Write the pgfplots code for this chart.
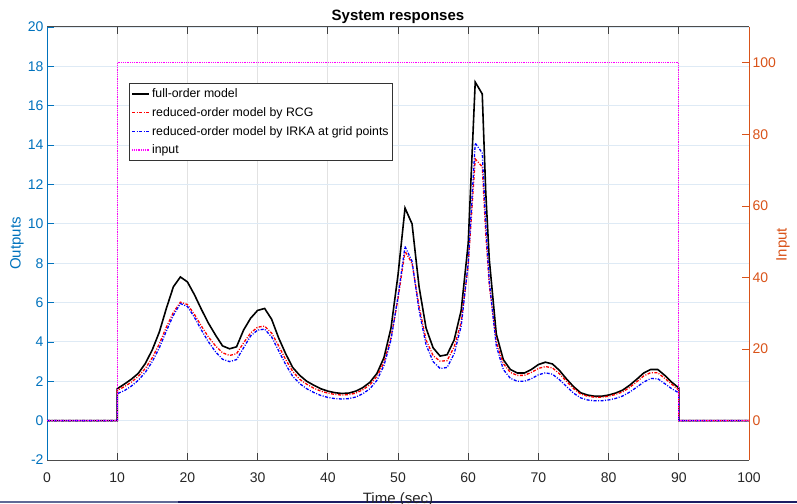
\documentclass[border=0pt]{standalone}
\usepackage{fontspec}
\setmainfont{Liberation Sans}
\usepackage{pgfplots}
\usepackage{pgfplotstable}
\pgfplotsset{compat=1.18}

\definecolor{mblue}{RGB}{0,114,189}
\definecolor{morange}{RGB}{217,83,25}
\definecolor{xgrid}{RGB}{226,226,226}
\definecolor{ygrid}{RGB}{222,234,245}
\definecolor{cfull}{RGB}{0,0,0}
\definecolor{crcg}{RGB}{255,0,0}
\definecolor{cirka}{RGB}{0,0,255}
\definecolor{cinput}{RGB}{255,0,255}

% t  full  rcg  irka
\pgfplotstableread{
t     full   rcg    irka
0     0      0      0
10    0      0      0
10    1.62   1.54   1.37
11    1.85   1.72   1.52
12    2.10   1.95   1.75
13    2.40   2.25   2.05
14    2.90   2.65   2.45
15    3.60   3.20   3.00
16    4.50   3.90   3.70
17    5.70   4.75   4.55
18    6.80   5.50   5.35
19    7.30   6.02   5.95
20    7.05   5.90   5.80
21    6.40   5.40   5.25
22    5.65   4.80   4.60
23    4.95   4.25   4.00
24    4.35   3.80   3.50
25    3.80   3.45   3.12
26    3.65   3.31   3.00
27    3.75   3.40   3.10
28    4.60   3.95   3.70
29    5.20   4.45   4.30
30    5.60   4.75   4.60
31    5.70   4.80   4.65
32    5.15   4.45   4.25
33    4.20   3.80   3.55
34    3.40   3.10   2.85
35    2.70   2.50   2.25
36    2.30   2.10   1.88
37    2.00   1.85   1.62
38    1.80   1.65   1.43
39    1.62   1.50   1.28
40    1.50   1.40   1.18
41    1.42   1.33   1.12
42    1.38   1.30   1.10
43    1.40   1.32   1.12
44    1.50   1.40   1.20
45    1.68   1.57   1.37
46    1.95   1.82   1.62
47    2.40   2.25   2.05
48    3.20   2.95   2.80
49    4.70   4.20   4.10
50    7.40   6.20   6.30
51    10.80  8.60   8.85
52    10.00  8.00   8.10
53    6.80   5.80   5.60
54    4.70   4.10   3.85
55    3.70   3.30   3.00
56    3.28   3.02   2.65
57    3.35   3.05   2.70
58    4.10   3.75   3.40
59    5.60   5.00   4.80
60    9.00   7.90   8.00
61    17.20  13.30  14.10
62    16.60  12.90  13.60
62.5  11.60  9.50   10.00
63    8.20   6.90   7.10
64    4.40   4.00   3.80
65    3.10   2.90   2.60
66    2.60   2.45   2.15
67    2.42   2.30   2.00
68    2.42   2.30   2.00
69    2.60   2.45   2.13
70    2.85   2.65   2.33
71    2.97   2.75   2.43
72    2.88   2.68   2.36
73    2.55   2.38   2.08
74    2.12   2.00   1.74
75    1.73   1.63   1.40
76    1.42   1.35   1.16
77    1.30   1.24   1.05
78    1.24   1.19   1.01
79    1.24   1.19   1.01
80    1.30   1.24   1.05
81    1.40   1.33   1.13
82    1.55   1.46   1.25
83    1.80   1.69   1.45
84    2.10   1.97   1.70
85    2.42   2.27   1.96
86    2.60   2.44   2.14
87    2.60   2.43   2.13
88    2.30   2.15   1.88
89    1.95   1.85   1.62
90    1.66   1.55   1.41
90    0      0      0
100   0      0      0
}\outputs

\pgfplotstableread{
t    u
0    0
10   0
10   100
90   100
90   0
100  0
}\inputsig

\begin{document}
\begin{tikzpicture}
\useasboundingbox (0,0) rectangle (797pt,503pt);
% screenshot edge
\fill[color={rgb,255:red,95;green,105;blue,150}] (0,0) rectangle (178pt,2.5pt);
\fill[color={rgb,255:red,28;green,30;blue,100}] (178pt,0) rectangle (797pt,2.5pt);

\begin{axis}[
    at={(47pt,43pt)}, anchor=south west,
    scale only axis, width=702pt, height=433pt,
    xmin=0, xmax=100, ymin=-2, ymax=20,
    xtick={0,10,...,100}, ytick={-2,0,...,20},
    axis x line*=box, axis y line*=left,
    xticklabel pos=lower,
    x axis line style={draw=black!70, line width=1pt},
    y axis line style={draw=mblue, line width=1pt},
    xtick style={draw=black!75, line width=0.8pt},
    ytick style={draw=mblue, line width=0.8pt},
    major tick length=7pt,
    tick align=inside,
    xmajorgrids, ymajorgrids,
    x grid style={draw=xgrid, line width=0.9pt},
    y grid style={draw=ygrid, line width=0.9pt},
    /pgf/number format/assume math mode=true,
    tick label style={font=\fontsize{14}{16}\selectfont},
    xticklabel style={text=black!85, yshift=-9pt},
    yticklabel style={text=mblue},
    title={\textbf{System responses}},
    title style={font=\fontsize{15}{17}\selectfont, at={(axis description cs:0.5,1)}, anchor=south, yshift=-6pt},
    xlabel={Time (sec)},
    xlabel style={font=\fontsize{15}{17}\selectfont, text=black!85, at={(axis description cs:0.5,0)}, anchor=base, yshift=-43.5pt},
    ylabel={Outputs},
    ylabel style={font=\fontsize{15}{17}\selectfont, text=mblue, at={(axis description cs:-0.0427,0.5)}, anchor=center},
]
\addplot[color=cfull, line width=1.6pt] table[x=t, y=full] {\outputs};
\addplot[color=crcg, line width=1.3pt, dash pattern=on 3pt off 1.5pt on 1pt off 1.5pt] table[x=t, y=rcg] {\outputs};
\addplot[color=cirka, line width=1.3pt, dash pattern=on 3pt off 1.5pt on 1pt off 1.5pt] table[x=t, y=irka] {\outputs};
\end{axis}

\begin{axis}[
    at={(47pt,43pt)}, anchor=south west,
    scale only axis, width=702pt, height=433pt,
    xmin=0, xmax=100, ymin=-11, ymax=110,
    ytick={0,20,...,100},
    axis x line=none, axis y line*=right,
    y axis line style={draw=morange, line width=1pt},
    ytick style={draw=morange, line width=0.8pt},
    major tick length=7pt,
    tick align=inside,
    /pgf/number format/assume math mode=true,
    tick label style={font=\fontsize{14}{16}\selectfont},
    yticklabel style={text=morange},
    ylabel={Input},
    ylabel style={font=\fontsize{15}{17}\selectfont, text=morange, at={(axis description cs:1.0484,0.497)}, anchor=center},
    legend style={at={(axis description cs:0.1168,0.8707)}, anchor=north west,
        draw=black!80, line width=0.8pt, fill=white,
        font=\fontsize{12.3}{14}\selectfont, inner xsep=2pt, inner ysep=3.5pt, row sep=4.2pt},
    legend cell align=left,
]
\addlegendimage{color=cfull, line width=1.6pt}
\addlegendentry{full-order model}
\addlegendimage{color=crcg, line width=1.3pt, dash pattern=on 3pt off 1.5pt on 1pt off 1.5pt}
\addlegendentry{reduced-order model by RCG}
\addlegendimage{color=cirka, line width=1.3pt, dash pattern=on 3pt off 1.5pt on 1pt off 1.5pt}
\addlegendentry{reduced-order model by IRKA at grid points}
\addplot[color=cinput, line width=1.2pt, dash pattern=on 1pt off 0.8pt] table[x=t, y=u] {\inputsig};
\addlegendentry{input}
\end{axis}
\end{tikzpicture}
\end{document}
